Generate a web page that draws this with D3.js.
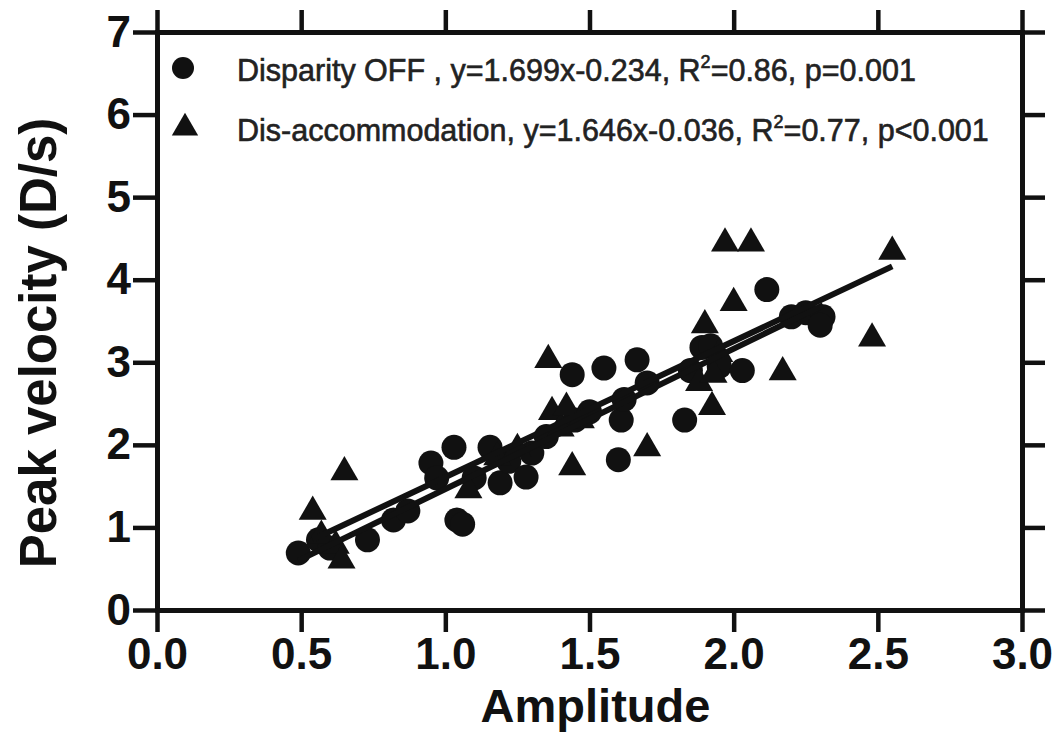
<!DOCTYPE html>
<html><head><meta charset="utf-8">
<script src="https://cdn.jsdelivr.net/npm/d3@7"></script>
<style>
body{margin:0;background:#fff;}
svg text{font-family:Arial,"Liberation Sans",Helvetica,sans-serif;}
</style></head>
<body><svg id="c" width="1054" height="749"></svg>
<script>
// Disparity OFF (circles)
const offX = [0.49,0.56,0.60,0.73,0.82,0.87,0.95,0.97,1.03,1.04,1.06,1.10,1.155,1.19,1.22,1.28,1.30,1.35,1.44,1.55,1.665,1.45,1.50,1.60,1.61,1.62,1.70,1.83,1.85,1.89,1.92,1.95,2.03,2.115,2.20,2.25,2.31,2.30];
const offY = [0.69,0.85,0.75,0.85,1.09,1.20,1.78,1.60,1.97,1.09,1.04,1.60,1.97,1.54,1.80,1.61,1.90,2.10,2.85,2.93,3.03,2.30,2.40,1.82,2.30,2.55,2.75,2.30,2.90,3.18,3.20,2.95,2.90,3.88,3.55,3.60,3.55,3.45];
// Dis-accommodation (triangles)
const disX = [0.54,0.57,0.62,0.64,0.65,1.08,1.18,1.25,1.357,1.37,1.40,1.42,1.44,1.47,1.70,1.88,1.90,1.925,1.93,1.97,2.00,2.06,2.17,2.48,2.55,1.95];
const disY = [1.19,0.90,0.78,0.60,1.67,1.45,1.85,1.95,3.03,2.40,2.20,2.45,1.73,2.30,1.96,2.75,3.45,2.46,2.85,4.44,3.72,4.44,2.88,3.29,4.34,3.10];
// regression fits [slope, intercept]
const offFit = [1.699, -0.234];
const disFit = [1.646, -0.036];
const xTicks = [0,0.5,1,1.5,2,2.5,3];
const yTicks = [0,1,2,3,4,5,6,7];
const legendLabels = [
  ["Disparity OFF , y=1.699x-0.234, R","2","=0.86, p=0.001"],
  ["Dis-accommodation, y=1.646x-0.036, R","2","=0.77, p<0.001"]
];
const xTitle = "Amplitude";
const yTitle = "Peak velocity (D/s)";

const svg = d3.select("#c");
const L=157,R=1022,T=32,B=610;
const x = d3.scaleLinear().domain([0,3]).range([L,R]);
const y = d3.scaleLinear().domain([0,7]).range([B,T]);
const ink = "#111";

function styleAxis(g){
  g.select(".domain").attr("stroke",ink).attr("stroke-width",5).attr("stroke-linecap","square");
  g.selectAll(".tick line").attr("stroke",ink).attr("stroke-width",4.5);
  g.selectAll(".tick text").attr("fill",ink).attr("font-size",44).attr("font-weight","bold");
}
svg.append("g").attr("transform",`translate(0,${B})`)
  .call(d3.axisBottom(x).tickValues(xTicks).tickFormat(d3.format(".1f")).tickSize(22).tickSizeOuter(0).tickPadding(3))
  .call(styleAxis).call(g=>g.selectAll(".tick text").attr("dy","0.78em"));
svg.append("g").attr("transform",`translate(0,${T})`)
  .call(d3.axisTop(x).tickValues(xTicks).tickFormat("").tickSize(22).tickSizeOuter(0))
  .call(styleAxis);
svg.append("g").attr("transform",`translate(${L},0)`)
  .call(d3.axisLeft(y).tickValues(yTicks).tickFormat(d3.format("d")).tickSize(24).tickSizeOuter(0).tickPadding(2))
  .call(styleAxis);
svg.append("g").attr("transform",`translate(${R},0)`)
  .call(d3.axisRight(y).tickValues(yTicks).tickFormat("").tickSize(23).tickSizeOuter(0))
  .call(styleAxis);

// points
const offPts = offX.map((v,i)=>[v,offY[i]]);
const disPts = disX.map((v,i)=>[v,disY[i]]);
svg.append("g").selectAll("circle").data(offPts).join("circle")
  .attr("cx",d=>x(d[0])).attr("cy",d=>y(d[1])).attr("r",12.5).attr("fill",ink);
const tri = d3.symbol().type(d3.symbolTriangle).size(340);
svg.append("g").selectAll("path").data(disPts).join("path")
  .attr("d",tri).attr("transform",d=>`translate(${x(d[0])},${y(d[1])})`).attr("fill",ink);

// fit lines
function fitLine(xs,fit){
  const x0=d3.min(xs), x1=d3.max(xs);
  svg.append("line").attr("x1",x(x0)).attr("y1",y(fit[0]*x0+fit[1]))
    .attr("x2",x(x1)).attr("y2",y(fit[0]*x1+fit[1]))
    .attr("stroke",ink).attr("stroke-width",6);
}
fitLine(offX,offFit);
fitLine(disX,disFit);

// legend
const lg = svg.append("g");
lg.append("circle").attr("cx",183).attr("cy",68).attr("r",11).attr("fill",ink);
lg.append("path").attr("d",d3.symbol().type(d3.symbolTriangle).size(300)).attr("transform","translate(185,128)").attr("fill",ink);
legendLabels.forEach((lab,i)=>{
  const t = lg.append("text").attr("x",237).attr("y",81+i*60).attr("font-size",30.5)
    .attr("fill","#222").attr("stroke","#222").attr("stroke-width",0.6);
  t.append("tspan").text(lab[0]);
  t.append("tspan").attr("font-size",18).attr("dy",-13).text(lab[1]);
  t.append("tspan").attr("dy",13).text(lab[2]);
});

// titles
svg.append("text").attr("x",(L+R)/2+6).attr("y",722).attr("text-anchor","middle")
  .attr("font-size",47).attr("font-weight","bold").attr("fill",ink).text(xTitle);
svg.append("text").attr("transform",`translate(56,${(T+B)/2+22}) rotate(-90)`).attr("text-anchor","middle")
  .attr("font-size",51).attr("font-weight","bold").attr("fill",ink).text(yTitle);
</script></body></html>
